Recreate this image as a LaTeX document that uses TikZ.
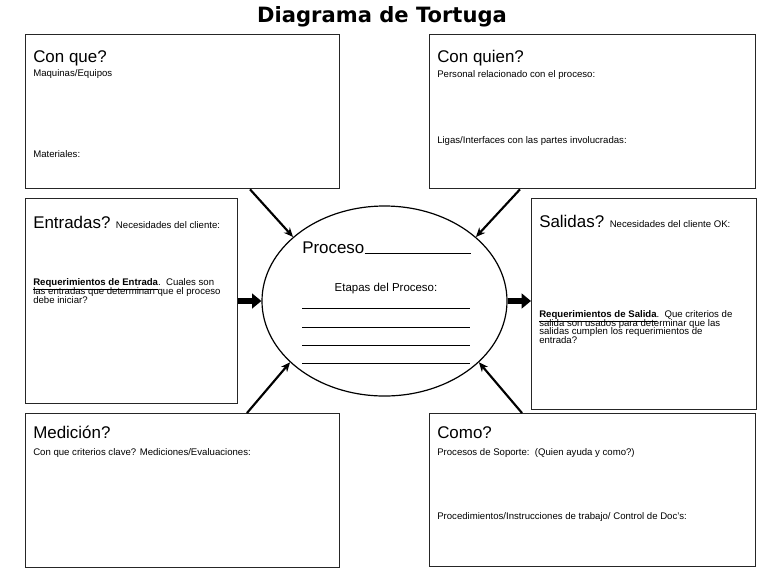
\documentclass[tikz,border=0pt]{standalone}
\usepackage{fontspec}
\setmainfont{Liberation Sans}
\newfontfamily\titlefont{DejaVu Sans}
\usetikzlibrary{arrows.meta,calc,shapes.geometric}
\tikzset{
  panel/.style={draw=black!85, line width=1pt, inner sep=0pt, anchor=north west},
  head/.style={font=\fontsize{12.7}{14}\selectfont, inner sep=0pt, anchor=base west},
  note/.style={font=\fontsize{7.2}{8}\selectfont, inner sep=0pt, anchor=base west},
  spoke/.style={line width=1.6pt, -{Stealth[length=7pt,width=6pt]}},
  flow/.style={line width=5.2pt, -{Triangle[length=7pt,width=11pt]}},
}
\begin{document}
\begin{tikzpicture}[x=0.75pt, y=-0.75pt]
  \useasboundingbox (0,0) rectangle (768,576);
  \node[font=\titlefont\bfseries\fontsize{15.8}{18}\selectfont, anchor=base, inner sep=0pt] (titulo) at (382,22) {Diagrama de Tortuga};

  % the six panels round the process
  \node[panel, minimum width=235.5pt, minimum height=115.5pt] (conque) at (25,34) {};
  \node[panel, minimum width=244.5pt, minimum height=115.5pt] (conquien) at (429,34) {};
  \node[panel, minimum width=159pt, minimum height=153.75pt] (entradas) at (25,198) {};
  \node[panel, minimum width=168.75pt, minimum height=158.25pt] (salidas) at (531,198) {};
  \node[panel, minimum width=235.5pt, minimum height=115.5pt] (medicion) at (25,413) {};
  \node[panel, minimum width=244.5pt, minimum height=114.75pt] (como) at (429,413) {};

  % the process in the middle
  \node[draw, line width=0.9pt, ellipse, minimum width=183.75pt, minimum height=142.5pt, inner sep=0pt] (proceso) at (384.5,301) {};
  \node[head] (procesoh) at (302,253) {Proceso};
  \draw[line width=0.6pt] (procesoh.base east) -- ++(106,0);
  \node[font=\fontsize{8.6}{10}\selectfont, anchor=base, inner sep=0pt] (etapas) at (386,291) {Etapas del Proceso:};
  \foreach \y in {308,327,345,363} {\draw[line width=0.6pt] (302,\y) -- (470,\y);}

  % Con que?
  \node[head] (conqueh) at ($(conque.north west)+(8,28)$) {Con que?};
  \node[note] (maquinas) at ($(conque.north west)+(8,42)$) {Maquinas/Equipos};
  \node[note] (materiales) at ($(conque.north west)+(8,123)$) {Materiales:};

  % Con quien?
  \node[head] (conquienh) at ($(conquien.north west)+(8,28)$) {Con quien?};
  \node[note] (personal) at ($(conquien.north west)+(8,43)$) {Personal relacionado con el proceso:};
  \node[note] (ligas) at ($(conquien.north west)+(8,109)$) {Ligas/Interfaces con las partes involucradas:};

  % Entradas?
  \node[head] (entradash) at ($(entradas.north west)+(8,30)$) {Entradas?};
  \node[note, anchor=base west] (necesidades) at ($(entradash.base east)+(5,0)$) {Necesidades del cliente:};
  \node[note] (reqent) at ($(entradas.north west)+(8,87)$) {\textbf{\underline{Requerimientos de Entrada}}.\ \ Cuales son};
  \foreach \dy/\txt in {96/{las entradas que determinan que el proceso}, 105/{debe iniciar?}} {
    \node[note] at ($(entradas.north west)+(8,\dy)$) {\txt};}

  % Salidas?
  \node[head] (salidash) at ($(salidas.north west)+(8,29)$) {Salidas?};
  \node[note, anchor=base west] (necesidadesok) at ($(salidash.base east)+(5,0)$) {Necesidades del cliente OK:};
  \node[note] (reqsal) at ($(salidas.north west)+(8,119)$) {\textbf{\underline{Requerimientos de Salida}}.\ \ Que criterios de};
  \foreach \dy/\txt in {128/{salida son usados para determinar que las}, 136.5/{salidas cumplen los requerimientos de}, 145/{entrada?}} {
    \node[note] at ($(salidas.north west)+(8,\dy)$) {\txt};}

  % Medicion?
  \node[head] (medicionh) at ($(medicion.north west)+(8,25)$) {Medición?};
  \node[note] (criterios) at ($(medicion.north west)+(8,42)$) {Con que criterios clave? Mediciones/Evaluaciones:};

  % Como?
  \node[head] (comoh) at ($(como.north west)+(8,25)$) {Como?};
  \node[note] (soporte) at ($(como.north west)+(8,42)$) {Procesos de Soporte:\ \ (Quien ayuda y como?)};
  \node[note] (procedimientos) at ($(como.north west)+(8,106)$) {Procedimientos/Instrucciones de trabajo/ Control de Doc's:};

  % spokes into the process
  \coordinate (cqfoot) at ($(conque.south west)+(225,0)$);
  \coordinate (cqnfoot) at ($(conquien.south west)+(91,0)$);
  \coordinate (medtop) at ($(medicion.north west)+(222,0)$);
  \coordinate (comotop) at ($(como.north west)+(93,0)$);
  \draw[spoke] (cqfoot) -- (proceso.145);
  \draw[spoke] (cqnfoot) -- (proceso.35);
  \draw[spoke] (medtop) -- (proceso.213);
  \draw[spoke] (comotop) -- (proceso.327);
  \draw[flow] (entradas.east |- proceso.west) -- (proceso.west);
  \draw[flow] (proceso.east) -- (proceso.east -| salidas.west);
\end{tikzpicture}
\end{document}
